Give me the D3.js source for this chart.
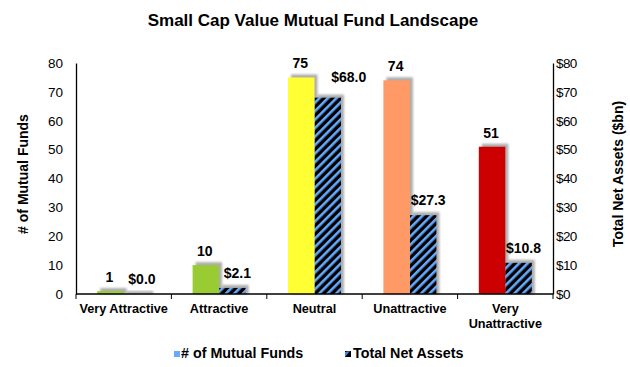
<!DOCTYPE html>
<html><head><meta charset="utf-8">
<script src="https://cdn.jsdelivr.net/npm/d3@7"></script>
<style>body{margin:0;background:#fff;} text{font-family:"Liberation Sans",Arial,sans-serif;}</style>
</head><body>
<svg id="c" width="630" height="367"></svg>
<script>
const categories = ["Very Attractive", "Attractive", "Neutral", "Unattractive", "Very Unattractive"];
const fundCounts = [1, 10, 75, 74, 51];
const netAssets = [0.0, 2.1, 68.0, 27.3, 10.8];
const fundColors = ["#99cc33", "#99cc33", "#ffff33", "#ff9966", "#cc0000"];
const leftTicks = [0, 10, 20, 30, 40, 50, 60, 70, 80];
const rightTicks = [0, 10, 20, 30, 40, 50, 60, 70, 80];
const seriesNames = ["# of Mutual Funds", "Total Net Assets"];

const svg = d3.select("#c");
const defs = svg.append("defs");
const pat = defs.append("pattern").attr("id","hatch").attr("patternUnits","userSpaceOnUse")
  .attr("width",6).attr("height",6).attr("patternTransform","rotate(45)");
pat.append("rect").attr("width",6).attr("height",6).attr("fill","#000");
pat.append("rect").attr("x",0).attr("width",2.6).attr("height",6).attr("fill","#66aaff");
const f = defs.append("filter").attr("id","blur").attr("x","-20%").attr("y","-20%").attr("width","140%").attr("height","140%");
f.append("feGaussianBlur").attr("stdDeviation",1.2);

const L = 76, R = 553, T = 63, B = 294;
const x = d3.scaleBand().domain(categories).range([L, R]).paddingInner(0).paddingOuter(0);
const yL = d3.scaleLinear().domain([0, 80]).range([B, T]);
const yR = d3.scaleLinear().domain([0, 80]).range([B, T]);
const inner = d3.scaleBand().domain(seriesNames).range([0, x.bandwidth()]).paddingOuter(0.8).paddingInner(0);
const bw = inner.bandwidth();

// shadows
const g = svg.append("g");
categories.forEach((c, i) => {
  const x1 = x(c) + inner(seriesNames[0]);
  const x2 = x(c) + inner(seriesNames[1]);
  g.append("rect").attr("x", x1 + 3).attr("y", yL(fundCounts[i]) - 3).attr("width", bw).attr("height", B - yL(fundCounts[i]) + 3)
    .attr("fill", "#999").attr("filter","url(#blur)").attr("opacity",0.8);
  g.append("rect").attr("x", x2 + 3).attr("y", yR(netAssets[i]) - 3).attr("width", bw).attr("height", Math.max(0, B - yR(netAssets[i])) + 3)
    .attr("fill", "#999").attr("filter","url(#blur)").attr("opacity",0.8);
});
categories.forEach((c, i) => {
  const x2 = x(c) + inner(seriesNames[1]);
  g.append("rect").attr("x", x2).attr("y", yR(netAssets[i])).attr("width", bw).attr("height", B - yR(netAssets[i]))
    .attr("fill", "url(#hatch)");
});
categories.forEach((c, i) => {
  const x1 = x(c) + inner(seriesNames[0]);
  g.append("rect").attr("x", x1).attr("y", yL(fundCounts[i])).attr("width", bw).attr("height", B - yL(fundCounts[i]))
    .attr("fill", fundColors[i]);
});

// data labels
categories.forEach((c, i) => {
  const x1 = x(c) + inner(seriesNames[0]);
  const x2 = x(c) + inner(seriesNames[1]);
  const fy = yL(fundCounts[i]) - 9;
  svg.append("text").attr("x", x1 + bw/2 - 1).attr("y", fy).attr("text-anchor","middle")
    .attr("font-size",14).attr("font-weight","bold").text(fundCounts[i]);
  let ax = x2 + bw/2 + 5, ay = yR(netAssets[i]) - 10;
  // near the top of the plot the asset label is moved aside, away from the count label
  if (ay < T + 40) { ax = x2 + bw/2 + 21; ay = fy + 14; }
  svg.append("text").attr("x", ax).attr("y", ay).attr("text-anchor","middle")
    .attr("font-size",14).attr("font-weight","bold").text("$" + netAssets[i].toFixed(1));
});

// axes
const axL = d3.axisLeft(yL).tickValues(leftTicks).tickSize(0).tickPadding(13);
const gl = svg.append("g").attr("transform",`translate(${L},0)`).call(axL);
gl.select(".domain").attr("stroke","#000").attr("stroke-width",1.3);
gl.selectAll("text").attr("font-size",13.5).attr("font-family","Liberation Sans, Arial").attr("fill","#000");

const axR = d3.axisRight(yR).tickValues(rightTicks).tickSize(0).tickPadding(3).tickFormat(d => "$" + d);
const gr = svg.append("g").attr("transform",`translate(${R},0)`).call(axR);
gr.select(".domain").attr("stroke","#000").attr("stroke-width",1.3);
gr.selectAll("text").attr("font-size",13.5).attr("font-family","Liberation Sans, Arial").attr("fill","#000").attr("letter-spacing","-0.6");

// bottom axis line + boundary ticks
svg.append("line").attr("x1",L).attr("x2",R).attr("y1",B).attr("y2",B).attr("stroke","#000").attr("stroke-width",1.3);
const bounds = categories.map(c => x(c)).concat([R]);
bounds.forEach(b => svg.append("line").attr("x1",b).attr("x2",b).attr("y1",B).attr("y2",B+5).attr("stroke","#000"));

// category labels
categories.forEach((c, i) => {
  const cx = x(c) + x.bandwidth()/2;
  const t = svg.append("text").attr("x", cx).attr("y", 313).attr("text-anchor","middle")
    .attr("font-size",12.7).attr("font-weight","bold");
  if (c === "Very Unattractive") {
    t.append("tspan").attr("x", cx).attr("dy",0).text("Very");
    t.append("tspan").attr("x", cx).attr("dy",15).text("Unattractive");
  } else t.text(c);
});

// title
svg.append("text").attr("x",313).attr("y",26).attr("text-anchor","middle").attr("font-size",17).attr("font-weight","bold")
  .text("Small Cap Value Mutual Fund Landscape");

// axis titles
svg.append("text").attr("transform","translate(28,174) rotate(-90)").attr("text-anchor","middle")
  .attr("font-size",14).attr("font-weight","bold").text("# of Mutual Funds");
svg.append("text").attr("transform","translate(623,174) rotate(-90)").attr("text-anchor","middle")
  .attr("font-size",14).attr("font-weight","bold").text("Total Net Assets ($bn)");

// legend
svg.append("rect").attr("x",174).attr("y",351).attr("width",6).attr("height",6).attr("fill","#66aaff");
svg.append("text").attr("x",181).attr("y",358).attr("font-size",14.3).attr("font-weight","bold").text(seriesNames[0]);
svg.append("rect").attr("x",345).attr("y",351).attr("width",6).attr("height",6).attr("fill","#000");
svg.append("path").attr("d","M345,357 L345,352 L350,351 Z").attr("fill","#4488ee");
svg.append("text").attr("x",353).attr("y",358).attr("font-size",14.3).attr("font-weight","bold").text(seriesNames[1]);
</script>
</body></html>
